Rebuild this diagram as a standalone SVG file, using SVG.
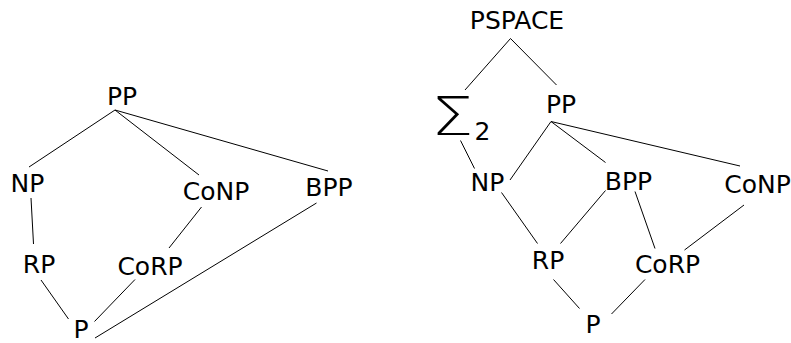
<svg xmlns="http://www.w3.org/2000/svg" width="791" height="343" viewBox="0 0 791 343">
  <style>
    .lbl { font-family: "DejaVu Sans", "Liberation Sans", sans-serif; font-size: 25px; fill: #000; text-anchor: middle; }
    .sig { font-family: "DejaVu Sans", sans-serif; font-weight: 200; font-size: 53px; fill: #000; }
    .edges line { stroke: #000; stroke-width: 1; }
  </style>
  <rect width="791" height="343" fill="#fff"/>

  <!-- connectors -->
  <g class="edges">
    <!-- left lattice -->
    <line x1="115" y1="110" x2="29" y2="167"/>
    <line x1="115" y1="110" x2="199" y2="175"/>
    <line x1="115" y1="110" x2="328" y2="171"/>
    <line x1="31" y1="198" x2="33.5" y2="244"/>
    <line x1="201.5" y1="207" x2="169" y2="248"/>
    <line x1="316.5" y1="203" x2="95" y2="338"/>
    <line x1="41" y1="280" x2="68.5" y2="319"/>
    <line x1="135" y1="279.5" x2="94.5" y2="321.5"/>
    <!-- right lattice -->
    <line x1="510.5" y1="38.5" x2="465" y2="90"/>
    <line x1="510.5" y1="38.5" x2="556.5" y2="85"/>
    <line x1="551" y1="121.5" x2="510" y2="180"/>
    <line x1="551" y1="121.5" x2="605.5" y2="162.5"/>
    <line x1="551" y1="121.5" x2="740" y2="166"/>
    <line x1="460.5" y1="140.5" x2="474.5" y2="168.5"/>
    <line x1="501.5" y1="192.5" x2="537.5" y2="243.5"/>
    <line x1="605.5" y1="190.5" x2="560.5" y2="243.5"/>
    <line x1="635" y1="191.5" x2="655" y2="248.5"/>
    <line x1="744" y1="205" x2="684.5" y2="250"/>
    <line x1="553.5" y1="279.5" x2="579.5" y2="308.5"/>
    <line x1="645" y1="279.5" x2="611.5" y2="314"/>
  </g>

  <!-- left lattice nodes -->
  <g id="l-pp"><text class="lbl" x="122" y="105">PP</text></g>
  <g id="l-np"><text class="lbl" x="27.5" y="191.5">NP</text></g>
  <g id="l-conp"><text class="lbl" x="216" y="200">CoNP</text></g>
  <g id="l-bpp"><text class="lbl" x="329" y="196">BPP</text></g>
  <g id="l-rp"><text class="lbl" x="39" y="273">RP</text></g>
  <g id="l-corp"><text class="lbl" x="150" y="275">CoRP</text></g>
  <g id="l-p"><text class="lbl" x="81" y="338">P</text></g>

  <!-- right lattice nodes -->
  <g id="r-pspace"><text class="lbl" x="517" y="29">PSPACE</text></g>
  <g id="r-sigma2">
    <text class="sig" x="0" y="135.5" transform="translate(431,0) scale(1.27,1)">Σ</text>
    <text class="lbl" x="482.5" y="140">2</text>
  </g>
  <g id="r-pp"><text class="lbl" x="561" y="113">PP</text></g>
  <g id="r-np"><text class="lbl" x="487.5" y="190.5">NP</text></g>
  <g id="r-bpp"><text class="lbl" x="628.5" y="190">BPP</text></g>
  <g id="r-conp"><text class="lbl" x="757.5" y="193">CoNP</text></g>
  <g id="r-rp"><text class="lbl" x="548" y="269">RP</text></g>
  <g id="r-corp"><text class="lbl" x="667.5" y="273">CoRP</text></g>
  <g id="r-p"><text class="lbl" x="593" y="333">P</text></g>
</svg>
